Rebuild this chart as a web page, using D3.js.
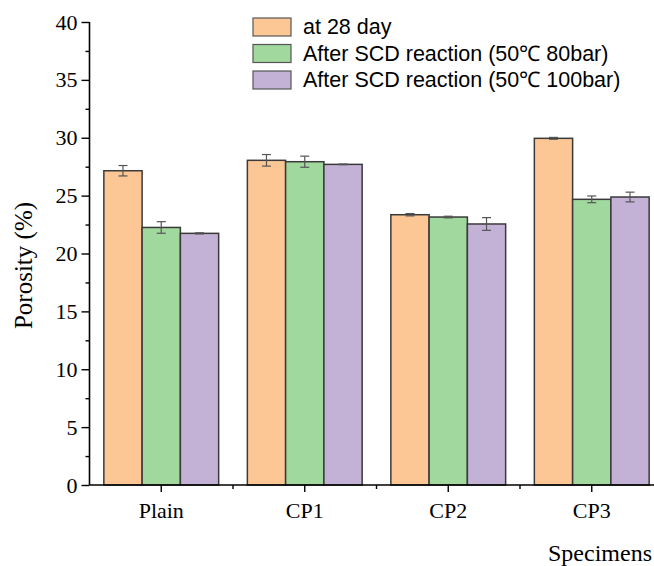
<!DOCTYPE html>
<html><head><meta charset="utf-8">
<script src="https://cdn.jsdelivr.net/npm/d3@7"></script>
<style>body{margin:0;background:#fff;} svg{display:block;}</style>
</head><body>
<svg id="c" width="654" height="566"></svg>
<script>
const categories = ["Plain", "CP1", "CP2", "CP3"];
const seriesNames = ["at 28 day", "After SCD reaction (50\u2103 80bar)", "After SCD reaction (50\u2103 100bar)"];
const at28 = [27.15, 28.05, 23.35, 29.95];
const scd80 = [22.25, 27.93, 23.15, 24.68];
const scd100 = [21.74, 27.70, 22.55, 24.88];
const err28 = [0.45, 0.5, 0.1, 0.08];
const err80 = [0.5, 0.48, 0.07, 0.29];
const err100 = [0.05, 0.03, 0.55, 0.42];
const yTicks = [0, 5, 10, 15, 20, 25, 30, 35, 40];
const colors = ["#FCC794", "#A0D89E", "#C3B2D6"];

const values = [at28, scd80, scd100];
const errs = [err28, err80, err100];
const svg = d3.select("#c");
const x0 = 89.5, xEnd = 663.5, yTop = 22, yBot = 485;
const x = d3.scaleBand().domain(categories).range([x0, xEnd]).padding(0);
const xs = d3.scaleBand().domain(d3.range(3)).range([x.bandwidth()*0.1, x.bandwidth()*0.9]).padding(0);
const y = d3.scaleLinear().domain([0, 40]).range([yBot, yTop]);

// bars
const g = svg.append("g");
categories.forEach((c, i) => {
  values.forEach((arr, s) => {
    const bx = x(c) + xs(s);
    g.append("rect").attr("x", bx).attr("y", y(arr[i])).attr("width", xs.bandwidth())
      .attr("height", y(0) - y(arr[i])).attr("fill", colors[s])
      .attr("stroke", "#3a3a3a").attr("stroke-width", 1.5);
    const cx = bx + xs.bandwidth()/2, e = errs[s][i];
    const eg = g.append("g").attr("stroke", "#555").attr("stroke-width", 1.2);
    eg.append("line").attr("x1", cx).attr("x2", cx).attr("y1", y(arr[i]+e)).attr("y2", y(arr[i]-e));
    eg.append("line").attr("x1", cx-4.5).attr("x2", cx+4.5).attr("y1", y(arr[i]+e)).attr("y2", y(arr[i]+e));
    eg.append("line").attr("x1", cx-4.5).attr("x2", cx+4.5).attr("y1", y(arr[i]-e)).attr("y2", y(arr[i]-e));
  });
});

// y axis
const ya = svg.append("g").attr("transform", `translate(${x0},0)`)
  .call(d3.axisLeft(y).tickValues(yTicks).tickSize(8).tickPadding(4));
ya.select(".domain").attr("stroke-width", 1.6).attr("d", `M0,${yTop}V${yBot}`);
ya.selectAll(".tick line").attr("stroke-width", 1.4);
ya.selectAll(".tick text").attr("font-family", "Liberation Serif, Times New Roman, serif").attr("font-size", 22).attr("fill", "#000");
const yMinor = svg.append("g").attr("transform", `translate(${x0},0)`)
  .call(d3.axisLeft(y).tickValues(d3.range(2.5, 40, 5)).tickSize(4).tickFormat(""));
yMinor.select(".domain").remove();
yMinor.selectAll(".tick line").attr("stroke-width", 1.4);

// x axis
const xa = svg.append("g").attr("transform", `translate(0,${yBot})`)
  .call(d3.axisBottom(x).tickSize(7).tickPadding(10));
xa.select(".domain").attr("stroke-width", 1.6).attr("d", `M${x0},0H${xEnd}`);
xa.selectAll(".tick line").attr("stroke-width", 1.4);
xa.selectAll(".tick text").attr("font-family", "Liberation Serif, Times New Roman, serif").attr("font-size", 22).attr("fill", "#000");
const bounds = categories.slice(1).map(c => x(c)).concat([xEnd]);
svg.append("g").attr("stroke", "#000").attr("stroke-width", 1.4).selectAll("line").data(bounds).join("line")
  .attr("x1", d => d).attr("x2", d => d).attr("y1", yBot).attr("y2", yBot + 4);

// axis titles
svg.append("text").attr("transform", `translate(32,${(yTop+yBot)/2+12}) rotate(-90)`).attr("text-anchor", "middle")
  .attr("font-family", "Liberation Serif, Times New Roman, serif").attr("font-size", 25).text("Porosity (%)");
svg.append("text").attr("x", 652).attr("y", 561).attr("text-anchor", "end")
  .attr("font-family", "Liberation Serif, Times New Roman, serif").attr("font-size", 24).text("Specimens");

// legend
const lg = svg.append("g").attr("transform", "translate(253,18)");
seriesNames.forEach((n, s) => {
  const row = lg.append("g").attr("transform", `translate(0,${s*26.5})`);
  row.append("rect").attr("width", 38).attr("height", 18).attr("fill", colors[s]).attr("stroke", "#555").attr("stroke-width", 1.2);
  row.append("text").attr("x", 50).attr("y", 16).attr("font-family", "Liberation Sans, Arial, sans-serif")
    .attr("font-size", 21.5).text(n);
});
</script>
</body></html>
